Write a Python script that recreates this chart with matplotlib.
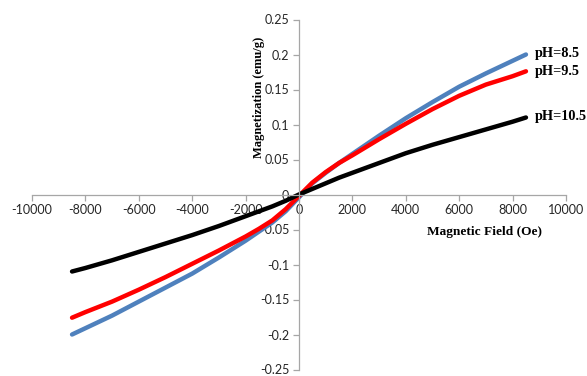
import matplotlib
matplotlib.use("Agg")
import matplotlib.pyplot as plt

field = [-8500, -8000, -7000, -6000, -5000, -4000, -3000, -2000, -1500, -1000, -500, 0,
         500, 1000, 1500, 2000, 3000, 4000, 5000, 6000, 7000, 8000, 8500]
ph85 = [-0.200, -0.191, -0.173, -0.153, -0.133, -0.113, -0.090, -0.066, -0.053, -0.040, -0.024, -0.004,
        0.016, 0.031, 0.045, 0.058, 0.084, 0.109, 0.132, 0.154, 0.173, 0.191, 0.200]
ph95 = [-0.176, -0.168, -0.153, -0.136, -0.118, -0.099, -0.080, -0.060, -0.049, -0.037, -0.021, -0.002,
        0.017, 0.032, 0.045, 0.056, 0.079, 0.101, 0.122, 0.141, 0.157, 0.169, 0.176]
ph105 = [-0.110, -0.105, -0.094, -0.082, -0.070, -0.058, -0.045, -0.031, -0.024, -0.017, -0.009, 0.000,
         0.008, 0.016, 0.024, 0.031, 0.045, 0.059, 0.071, 0.082, 0.093, 0.104, 0.110]
series_labels = ["pH=8.5", "pH=9.5", "pH=10.5"]
label_y = [0.202, 0.176, 0.112]
xticks = list(range(-10000, 10001, 2000))
yticks = [-0.25, -0.2, -0.15, -0.1, -0.05, 0, 0.05, 0.1, 0.15, 0.2, 0.25]
ytick_labels = ["-0.25", "-0.2", "-0.15", "-0.1", "-0.05", "0", "0.05", "0.1", "0.15", "0.2", "0.25"]

fig = plt.figure(figsize=(5.87, 3.76), dpi=100)
ax = fig.add_axes([32/587, 1-369.5/376, 534/587, 350/376])

colors = ["#4F81BD", "#FF0000", "#000000"]
for ys, c in zip([ph85, ph95, ph105], colors):
    ax.plot(field, ys, color=c, lw=3.2, solid_capstyle="round", solid_joinstyle="round")

ax.set_xlim(-10000, 10000)
ax.set_ylim(-0.25, 0.25)
ax.spines["left"].set_position(("data", 0))
ax.spines["bottom"].set_position(("data", 0))
ax.spines["right"].set_visible(False)
ax.spines["top"].set_visible(False)
for s in ["left", "bottom"]:
    ax.spines[s].set_color("#A6A6A6")
    ax.spines[s].set_linewidth(0.9)
ax.set_xticks(xticks)
ax.set_xticklabels([str(v) for v in xticks])
ax.set_yticks(yticks)
ax.set_yticklabels(ytick_labels)
ax.tick_params(axis="both", direction="out", length=4, width=0.9, color="#A6A6A6",
               labelsize=9, labelcolor="#262626", pad=3)
for lab in ax.get_xticklabels() + ax.get_yticklabels():
    lab.set_fontfamily("Lato")

serif = "Liberation Serif"
ax.text(-1500, 0.139, "Magnetization (emu/g)", rotation=90, ha="center", va="center",
        fontsize=9, fontweight="bold", fontfamily=serif)
ax.text(6930, -0.054, "Magnetic Field (Oe)", ha="center", va="center",
        fontsize=9.6, fontweight="bold", fontfamily=serif)
for lab, yv in zip(series_labels, label_y):
    ax.text(8840, yv, lab, ha="left", va="center", fontsize=10.3, fontweight="bold", fontfamily=serif)

fig.savefig("out.png", dpi=100)
